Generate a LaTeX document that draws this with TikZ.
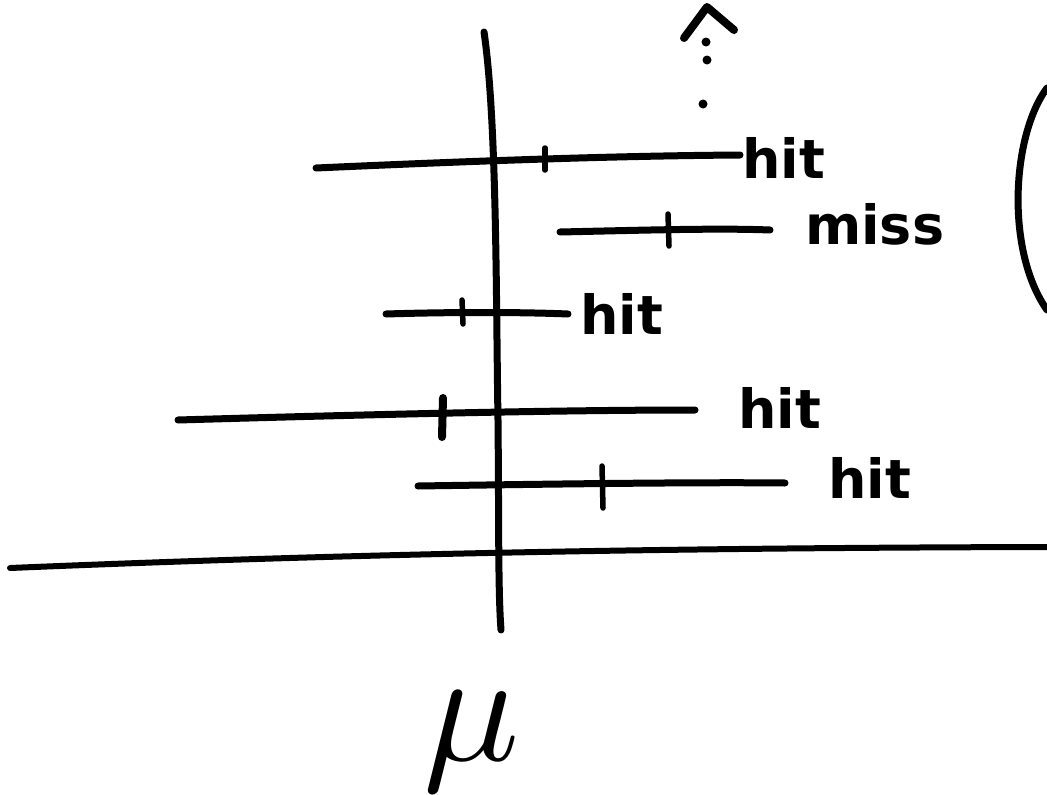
\documentclass[tikz,border=0pt]{standalone}
\usepackage{fontspec}
\setmainfont{DejaVu Sans}
\begin{document}
\begin{tikzpicture}[x=1pt,y=-1pt,
  pen/.style={line width=7pt,line cap=round,line join=round},
  thinpen/.style={line width=5.5pt,line cap=round},
  lbl/.style={font=\fontsize{54}{54}\selectfont\bfseries,inner sep=0pt,anchor=base west}]
\useasboundingbox (0,0) rectangle (1047,795);
\fill[white] (0,0) rectangle (1047,795);
% vertical axis
\draw[pen] (484,32) .. controls (497,120) and (496,300) .. (498,420) .. controls (499,520) and (498,590) .. (501,630);
% horizontal axis
\draw[pen,line width=6pt] (10,568) .. controls (300,556) and (600,548) .. (1047,547);
% bars
\draw[pen] (316,168) .. controls (450,162) and (600,156) .. (740,155);
\draw[thinpen] (545,148) -- (545,170);
\node[lbl] (h1) at (742,178) {hit};
\draw[pen] (560,232) .. controls (650,230) and (720,228) .. (770,230);
\draw[thinpen] (668,214) -- (669,246);
\node[lbl] (m1) at (805,244) {miss};
\draw[pen] (386,314) .. controls (450,312) and (520,312) .. (568,314);
\draw[thinpen] (462,300) -- (463,324);
\node[lbl] (h2) at (580,334) {hit};
\draw[pen] (178,420) .. controls (350,415) and (550,410) .. (695,410);
\draw[pen,line width=8pt] (443,398) -- (442,437);
\node[lbl] (h3) at (738,428) {hit};
\draw[pen] (418,486) .. controls (550,484) and (700,482) .. (785,483);
\draw[thinpen] (602,466) -- (603,508);
\node[lbl] (h4) at (828,498) {hit};
% dotted arrow
\draw[pen,line width=8pt] (684,38) -- (707,7) -- (734,30);
\fill (706,42) circle (4.5pt);
\fill (707,60) circle (4.5pt);
\fill (703,104) circle (4.5pt);
% right arc
\draw[pen] (1047,88) .. controls (1012,135) and (1005,250) .. (1047,310);
% mu
\node[scale=16,inner sep=0pt] (mu) at (472,742) {$\mu$};
\end{tikzpicture}
\end{document}
